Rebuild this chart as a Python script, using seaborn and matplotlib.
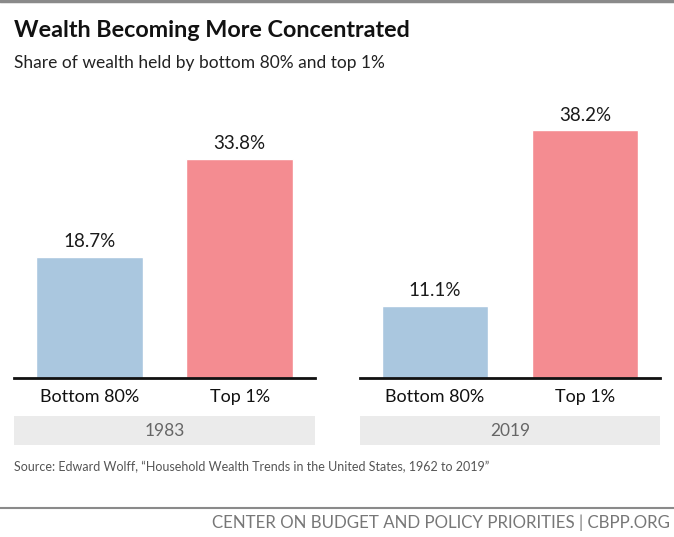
import numpy as np
import pandas as pd
import matplotlib
matplotlib.use("Agg")
import matplotlib.pyplot as plt
import seaborn as sns

# chart data
years = ["1983", "2019"]
groups = ["Bottom 80%", "Top 1%"]
share_1983 = [18.7, 33.8]
share_2019 = [11.1, 38.2]
bar_colors = ["#aac7df", "#f48c91"]

sns.set_theme(style="white")
plt.rcParams["font.family"] = ["Lato", "DejaVu Sans"]

W, H = 674, 537
fig = plt.figure(figsize=(W / 100, H / 100), dpi=100)


def px_axes(x0, y0, x1, y1):
    # rectangle given in pixel coords (top-left origin)
    return fig.add_axes([x0 / W, 1 - y1 / H, (x1 - x0) / W, (y1 - y0) / H])


# top border
fig.add_artist(plt.Line2D([0, 1], [1 - 1 / H, 1 - 1 / H], color="#8a8a8a", lw=2.5))

fig.text(14 / W, 1 - 37 / H, "Wealth Becoming More Concentrated",
         fontsize=16.8, fontweight="bold", color="#111111", ha="left", va="baseline")
fig.text(14 / W, 1 - 68 / H, "Share of wealth held by bottom 80% and top 1%",
         fontsize=12.5, color="#222222", ha="left", va="baseline")

ymax = 45
panels = [(14, 315, years[0], share_1983), (360, 660, years[1], share_2019)]
for x0, x1, year, vals in panels:
    df = pd.DataFrame({"group": groups, "share": vals})
    ax = px_axes(x0, 378 - ymax * 6.48, x1, 378)
    sns.barplot(data=df, x="group", y="share", hue="group", palette=bar_colors,
                width=0.71, legend=False, ax=ax, saturation=1)
    ax.set_ylim(0, ymax)
    ax.set_xlim(-0.5, 1.5)
    for s in ["top", "right", "left"]:
        ax.spines[s].set_visible(False)
    ax.spines["bottom"].set_color("#111111")
    ax.spines["bottom"].set_linewidth(2)
    ax.set_yticks([])
    ax.set_xlabel("")
    ax.set_ylabel("")
    ax.tick_params(axis="x", length=0, pad=8, labelsize=13, labelcolor="#111111")
    for i, v in enumerate(vals):
        ax.annotate(f"{v}%", (i, v), xytext=(0, 5), textcoords="offset points",
                    ha="center", va="bottom", fontsize=13.5, color="#1a1a1a")

    band = px_axes(x0, 416, x1, 445)
    band.set_facecolor("#ebebeb")
    band.set_xticks([])
    band.set_yticks([])
    for s in band.spines.values():
        s.set_visible(False)
    band.text(0.5, 0.47, year, transform=band.transAxes, ha="center", va="center",
              fontsize=12.5, color="#666666")

fig.text(14 / W, 1 - 467 / H,
         "Source: Edward Wolff, \u201cHousehold Wealth Trends in the United States, 1962 to 2019\u201d",
         fontsize=9, color="#555555", ha="left", va="center")

fig.add_artist(plt.Line2D([0, 1], [1 - 508 / H, 1 - 508 / H], color="#8a8a8a", lw=1.5))
fig.text(670 / W, 1 - 523 / H, "CENTER ON BUDGET AND POLICY PRIORITIES | CBPP.ORG",
         fontsize=12.2, color="#777777", ha="right", va="center")

fig.savefig("out.png", dpi=100)
